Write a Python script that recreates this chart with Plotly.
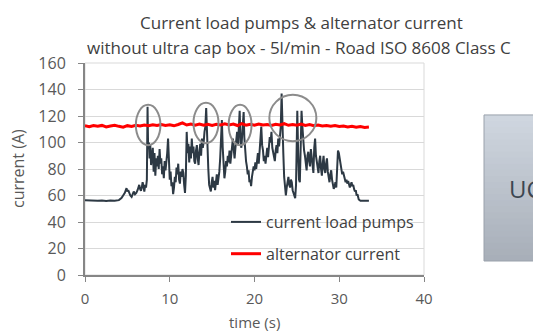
import plotly.graph_objects as go

# ---------------- data ----------------
pump_t = [0.0, 0.5, 1.0, 1.5, 2.0, 2.5, 3.0, 3.5, 4.0, 4.3, 4.5, 4.7, 4.9, 5.0, 5.1, 5.2, 5.35, 5.5, 5.6, 5.75,
          5.9, 6.05, 6.2, 6.3, 6.4, 6.5, 6.6, 6.7, 6.8, 6.9, 7.0, 7.1, 7.2, 7.3, 7.38, 7.45, 7.55, 7.62, 7.7, 7.8,
          7.9, 8.0, 8.1, 8.2, 8.3, 8.4, 8.5, 8.6, 8.7, 8.8, 8.9, 9.0, 9.1, 9.2, 9.3, 9.4, 9.5, 9.6, 9.7, 9.8,
          9.9, 10.0, 10.1, 10.2, 10.3, 10.4, 10.5, 10.6, 10.7, 10.8, 10.9, 11.0, 11.1, 11.2, 11.3, 11.4, 11.5, 11.6, 11.7, 11.8,
          11.9, 12.0, 12.1, 12.2, 12.3, 12.4, 12.5, 12.6, 12.7, 12.8, 12.9, 13.0, 13.1, 13.2, 13.3, 13.4, 13.5, 13.6, 13.7, 13.8,
          13.9, 14.0, 14.1, 14.2, 14.3, 14.38, 14.45, 14.55, 14.65, 14.75, 14.85, 14.95, 15.05, 15.15, 15.25, 15.35, 15.45, 15.55, 15.65, 15.75,
          15.85, 15.95, 16.05, 16.15, 16.25, 16.35, 16.45, 16.55, 16.65, 16.75, 16.85, 16.95, 17.05, 17.15, 17.25, 17.35, 17.45, 17.55, 17.65, 17.75,
          17.85, 17.95, 18.05, 18.15, 18.25, 18.35, 18.45, 18.55, 18.65, 18.72, 18.8, 18.9, 19.0, 19.1, 19.2, 19.3, 19.4, 19.5, 19.6, 19.7,
          19.8, 19.9, 20.0, 20.1, 20.2, 20.3, 20.4, 20.5, 20.6, 20.7, 20.8, 20.9, 21.0, 21.1, 21.2, 21.3, 21.4, 21.5, 21.6, 21.7,
          21.8, 21.9, 22.0, 22.1, 22.2, 22.3, 22.4, 22.5, 22.6, 22.7, 22.8, 22.9, 23.0, 23.1, 23.2, 23.3, 23.4, 23.5, 23.6, 23.7,
          23.8, 23.9, 24.0, 24.1, 24.2, 24.3, 24.4, 24.5, 24.6, 24.7, 24.8, 24.9, 25.0, 25.05, 25.15, 25.25, 25.35, 25.45, 25.55, 25.65,
          25.75, 25.85, 25.95, 26.05, 26.15, 26.25, 26.35, 26.45, 26.55, 26.65, 26.75, 26.85, 26.95, 27.05, 27.15, 27.25, 27.35, 27.45, 27.55, 27.65,
          27.75, 27.85, 27.95, 28.05, 28.15, 28.25, 28.35, 28.45, 28.55, 28.65, 28.75, 28.85, 28.95, 29.05, 29.15, 29.25, 29.35, 29.45, 29.55, 29.65,
          29.75, 29.85, 29.95, 30.05, 30.15, 30.25, 30.35, 30.45, 30.55, 30.65, 30.75, 30.85, 30.95, 31.05, 31.15, 31.25, 31.35, 31.45, 31.55, 31.65,
          31.75, 31.85, 31.95, 32.05, 32.15, 32.3, 32.5, 33.0, 33.5]
pump_a = [56.5, 56.2, 56.4, 56.0, 56.3, 55.9, 56.2, 56.0, 56.5, 58, 60, 62, 65.5, 63, 64, 61.5, 60, 59, 60.5, 63,
          61, 62, 64, 66, 68, 65, 63.5, 66, 70, 67, 63, 68, 66, 72, 127, 95, 100, 88, 98, 83,
          90, 96, 78, 92, 75, 88, 82, 90, 80, 95, 84, 88, 76, 82, 73, 86, 79, 85, 92, 103,
          80, 72, 78, 67, 70, 61, 66, 74, 70, 81, 76, 84, 72, 69, 78, 74, 80, 77, 68, 62,
          75, 108, 92, 99, 85, 97, 88, 103, 92, 97, 86, 84, 94, 98, 88, 83, 93, 99, 90, 103,
          96, 100, 108, 112, 126, 104, 95, 80, 68, 65, 63, 70, 74, 66, 71, 64, 72, 76, 68, 73,
          78, 88, 102, 117, 96, 80, 73, 78, 86, 82, 90, 85, 94, 84, 92, 98, 103, 95, 88, 96,
          101, 108, 98, 112, 124, 100, 96, 106, 115, 123, 104, 92, 86, 82, 76, 79, 70, 72, 67, 74,
          78, 82, 79, 85, 80, 88, 92, 84, 96, 100, 112, 98, 94, 86, 90, 84, 92, 96, 89, 98,
          104, 100, 108, 96, 92, 88, 86, 94, 98, 92, 103, 97, 104, 112, 137, 98, 92, 74, 62, 60,
          66, 72, 74, 68, 66, 72, 70, 64, 62, 60, 58, 68, 110, 124, 92, 72, 70, 98, 124, 112,
          97, 94, 90, 84, 79, 90, 93, 86, 82, 95, 88, 80, 77, 96, 103, 90, 84, 80, 77, 86,
          90, 80, 75, 84, 90, 80, 77, 84, 88, 78, 72, 70, 76, 79, 72, 68, 65, 67, 70, 66,
          80, 94, 92, 88, 84, 80, 76, 78, 75, 73, 70, 72, 69, 71, 68, 66, 68, 70, 67, 68,
          65, 63, 64, 60, 61, 57, 56, 55.8, 56]

alt_t = [0.0, 0.5, 1.0, 1.5, 2.0, 2.5, 3.0, 3.5, 4.0, 4.5, 5.0, 5.5, 6.0, 6.5, 7.0, 7.5, 8.0, 8.5, 9.0, 9.5,
         10.0, 10.5, 11.0, 11.5, 12.0, 12.5, 13.0, 13.5, 14.0, 14.5, 15.0, 15.5, 16.0, 16.5, 17.0, 17.5, 18.0, 18.5, 19.0, 19.5,
         20.0, 20.5, 21.0, 21.5, 22.0, 22.5, 23.0, 23.5, 24.0, 24.5, 25.0, 25.5, 26.0, 26.5, 27.0, 27.5, 28.0, 28.5, 29.0, 29.5,
         30.0, 30.5, 31.0, 31.5, 32.0, 32.5, 33.0, 33.5]
alt_a = [112.6, 112.0, 112.8, 112.3, 112.9, 111.8, 112.5, 113.0, 112.2, 111.6, 112.7, 112.1, 113.0, 112.4, 113.2, 112.6, 113.4, 112.8, 113.5, 112.9,
         113.3, 112.6, 113.6, 114.8, 113.2, 114.0, 113.1, 113.9, 113.0, 113.8, 112.9, 113.7, 113.2, 114.1, 113.3, 113.9, 112.8, 114.2, 113.1, 113.8,
         113.0, 114.0, 113.2, 113.6, 112.9, 113.8, 113.3, 114.2, 113.0, 113.6, 113.1, 113.9, 112.9, 113.5, 112.7, 113.2, 112.5, 112.9, 112.3, 112.8,
         112.1, 112.4, 111.8, 112.2, 111.5, 112.0, 111.4, 111.7]

x_ticks = [0, 10, 20, 30, 40]
y_ticks = [0, 20, 40, 60, 80, 100, 120, 140, 160]

title_lines = ["Current load pumps & alternator current",
               "without ultra cap box - 5l/min - Road ISO 8608 Class C"]
x_title = "time (s)"
y_title = "current (A)"

# ---------------- figure ----------------
FONT = "Open Sans"
fig = go.Figure()

fig.add_trace(go.Scatter(x=pump_t, y=pump_a, mode="lines", name="current load pumps",
                         line=dict(color="#2d3944", width=2), legendgroup="a"))
fig.add_trace(go.Scatter(x=alt_t, y=alt_a, mode="lines", name="alternator current",
                         line=dict(color="#ff0000", width=3), legendgroup="b"))

shapes = []
# light border top/right of plot area
shapes.append(dict(type="rect", xref="paper", yref="paper", x0=0, x1=1, y0=0, y1=1,
                   line=dict(color="#d9d9d9", width=1), layer="below"))
# ellipses around peaks
for (x0, x1, y0, y1) in [(6.0, 8.9, 98, 128.5), (12.8, 15.75, 99.5, 130), (16.95, 19.65, 98, 128.5), (21.75, 27.3, 101, 136)]:
    shapes.append(dict(type="circle", xref="x", yref="y", x0=x0, x1=x1, y0=y0, y1=y1,
                       line=dict(color="#8c8c8c", width=2)))
# UC box with vertical gradient (stacked, overlapping bands)
top_c = (0xd0, 0xd7, 0xe0)
bot_c = (0xa7, 0xae, 0xb8)
bx0, bx1, by0, by1 = 1.177, 1.6, 0.066, 0.755
n = 24
for i in range(n):
    f = (i + 0.5) / n
    c = tuple(int(round(bot_c[k] + (top_c[k] - bot_c[k]) * f)) for k in range(3))
    shapes.append(dict(type="rect", xref="paper", yref="paper", x0=bx0, x1=bx1,
                       y0=by0 + (by1 - by0) * i / n, y1=by1,
                       line=dict(width=0), fillcolor="rgb(%d,%d,%d)" % c))
shapes.append(dict(type="rect", xref="paper", yref="paper", x0=bx0, x1=bx1, y0=by0, y1=by1,
                   line=dict(color="#9aa1ab", width=1)))

annotations = [
    dict(text=title_lines[0], xref="paper", yref="paper", x=0.64, y=1.193, showarrow=False,
         font=dict(family=FONT, size=17, color="#404040"), xanchor="center", yanchor="middle"),
    dict(text=title_lines[1], xref="paper", yref="paper", x=0.63, y=1.075, showarrow=False,
         font=dict(family=FONT, size=17, color="#404040"), xanchor="center", yanchor="middle"),
    dict(text="UC", xref="paper", yref="paper", x=1.175 + (508 - 484) / 339, y=(275 - 188) / 212,
         showarrow=False, font=dict(family=FONT, size=24, color="#3c4650"), xanchor="left", yanchor="middle"),
    dict(text=x_title, xref="paper", yref="paper", x=(254 - 85) / 339, y=(275 - 322) / 212,
         showarrow=False, font=dict(family=FONT, size=15, color="#595959"), xanchor="center", yanchor="middle",
         borderpad=0),
    dict(text=y_title, xref="paper", yref="paper", x=(18 - 85) / 339, y=0.5, textangle=-90,
         showarrow=False, font=dict(family=FONT, size=16, color="#595959"), xanchor="center", yanchor="middle"),
]

fig.update_layout(
    width=533, height=334,
    margin=dict(l=85, r=109, t=63, b=59),
    paper_bgcolor="white", plot_bgcolor="white",
    font=dict(family=FONT, size=16, color="#595959"),
    shapes=shapes, annotations=annotations,
    showlegend=True,
    legend=dict(x=(226 - 85) / 339, y=(275 - 205) / 212, xanchor="left", yanchor="top",
                bgcolor="rgba(0,0,0,0)", font=dict(family=FONT, size=16, color="#404040"),
                tracegroupgap=8),
    xaxis=dict(range=[0, 40], tickvals=x_ticks, showgrid=False, zeroline=False, automargin=False,
               showline=True, linecolor="#868686", linewidth=2, ticks="outside", ticklen=5,
               tickcolor="#868686", ticklabelstandoff=4, tickfont=dict(size=15)),
    yaxis=dict(range=[0, 160], tickvals=y_ticks, showgrid=True, gridcolor="#d9d9d9", gridwidth=1,
               zeroline=False, showline=True, linecolor="#868686", linewidth=2, ticks="outside",
               ticklen=5, tickcolor="#868686", ticklabelstandoff=9, automargin=False),
)

fig.write_html("out.html")
